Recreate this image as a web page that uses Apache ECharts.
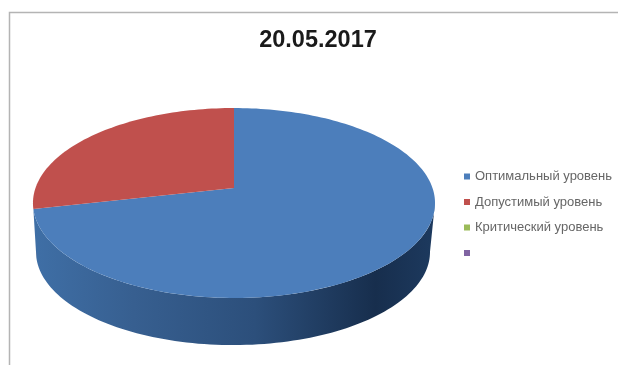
<!DOCTYPE html>
<html>
<head>
<meta charset="utf-8">
<style>html,body{margin:0;padding:0;background:#fff}#chart{width:618px;height:365px}</style>
<script src="https://cdn.jsdelivr.net/npm/echarts@6/dist/echarts.min.js"></script>
</head>
<body>
<div id="chart"></div>
<script>
// Share of each level on the given date
const chartTitle = '20.05.2017';
const levels = ['Оптимальный уровень', 'Допустимый уровень', 'Критический уровень', '\u00a0'];
const shares = [71.5, 28.5, 0, 0];
const faceColors = ['#4c7ebb', '#c0504d', '#9bbb59', '#8064a2'];
const wallColors = [
  [[0, '#3f6fa6'], [0.25, '#375f90'], [0.55, '#2c4f7b'], [0.85, '#172e4d'], [1, '#1d3a5f']],
  [[0, '#8e3b39'], [1, '#8e3b39']],
  [[0, '#73893f'], [1, '#73893f']],
  [[0, '#5d4877'], [1, '#5d4877']]
];

// Perspective projection of the disc onto the page
const disc = { cx: 234, apexY: 188, k: 198.5, a: -62.9, c: 0.158 };
const floor = { cx: 233, cy: 252, topCy: 203, scale: 0.98 };
const total = shares.reduce((s, v) => s + v, 0);

function rim(deg) {
  const th = deg * Math.PI / 180, s = Math.sin(th), t = Math.cos(th);
  const w = disc.c * t + 1;
  return [disc.cx + disc.k * s / w, (disc.a * t + disc.apexY) / w];
}
function lowerRim(deg) {
  const p = rim(deg);
  return [floor.cx + (p[0] - disc.cx) * floor.scale, floor.cy + (p[1] - floor.topCy) * floor.scale];
}
function sweep(from, to, fn) {
  const pts = [];
  const n = Math.max(1, Math.ceil((to - from) / 1.5));
  for (let i = 0; i <= n; i++) pts.push(fn(from + (to - from) * i / n));
  return pts;
}

function renderSlice(index, api) {
  const before = shares.slice(0, index).reduce((s, v) => s + v, 0);
  const start = before / total * 360;
  const end = start + api.value(0) / total * 360;
  const children = [];
  if (end <= start) return { type: 'group', children };

  // Front wall: only the part of the rim that faces the viewer
  const wallFrom = Math.max(start, 99), wallTo = Math.min(end, 261);
  if (wallTo > wallFrom) {
    children.push({
      type: 'polygon',
      shape: { points: sweep(wallFrom, wallTo, rim).concat(sweep(wallFrom, wallTo, lowerRim).reverse()) },
      style: {
        fill: {
          type: 'linear', x: 33, y: 0, x2: 436, y2: 0, global: true,
          colorStops: wallColors[index].map(([offset, color]) => ({ offset, color }))
        }
      }
    });
  }
  // Top face
  children.push({
    type: 'polygon',
    shape: { points: [[disc.cx, disc.apexY]].concat(sweep(start, end, rim)) },
    style: { fill: faceColors[index] }
  });
  return { type: 'group', children };
}

const chart = echarts.init(document.getElementById('chart'), null, { renderer: 'canvas' });
chart.setOption({
  animation: false,
  backgroundColor: '#ffffff',
  title: {
    text: chartTitle,
    left: 313, top: 24, textAlign: 'center',
    textStyle: { fontFamily: 'Liberation Sans', fontSize: 23.5, fontWeight: 'bold', color: '#1a1a1a' }
  },
  legend: {
    orient: 'vertical',
    left: 459, top: 165,
    icon: 'rect', itemWidth: 6, itemHeight: 6, itemGap: 12.5,
    data: levels,
    textStyle: { fontFamily: 'Liberation Sans', fontSize: 13, color: '#666666', padding: [0, 0, 0, 0] },
    selectedMode: false
  },
  graphic: [
    { type: 'polyline', silent: true, shape: { points: [[9.5, 365], [9.5, 12.5], [618, 12.5]] },
      style: { stroke: '#b4b4b4', lineWidth: 1.5, fill: null } }
  ],
  series: levels.map((name, i) => ({
    type: 'custom',
    name,
    coordinateSystem: 'none',
    itemStyle: { color: faceColors[i] },
    data: [shares[i]],
    renderItem: (params, api) => renderSlice(i, api)
  }))
});
</script>
</body>
</html>
